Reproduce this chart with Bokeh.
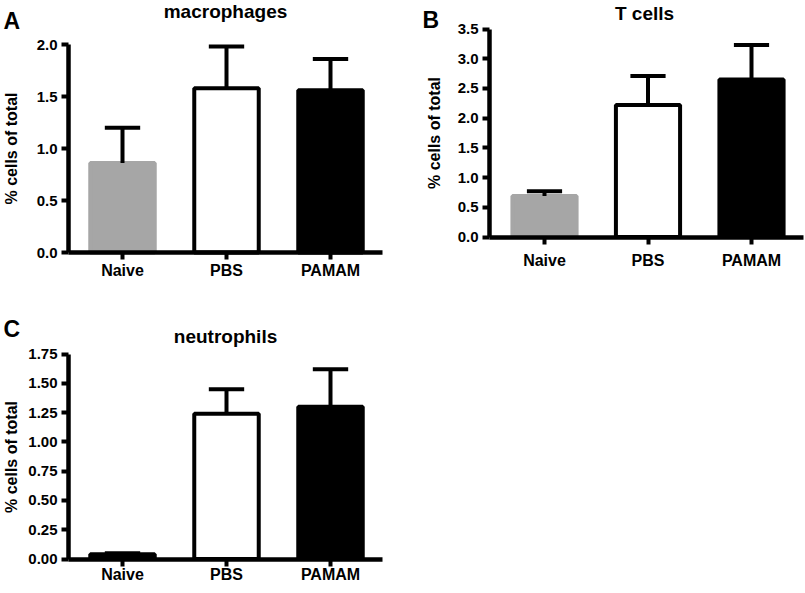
import math
from bokeh.plotting import figure
from bokeh.models import Range1d, FixedTicker, PrintfTickFormatter, Label
from bokeh.layouts import column, row
from bokeh.embed import file_html
from bokeh.resources import INLINE

# ---------------- data ----------------
categories = ["Naive", "PBS", "PAMAM"]

mac_mean = [0.86, 1.58, 1.56]
mac_err = [0.34, 0.40, 0.30]
mac_ticks = [0.0, 0.5, 1.0, 1.5, 2.0]

tcell_mean = [0.69, 2.22, 2.65]
tcell_err = [0.08, 0.49, 0.58]
tcell_ticks = [0.0, 0.5, 1.0, 1.5, 2.0, 2.5, 3.0, 3.5]

neut_mean = [0.04, 1.24, 1.30]
neut_err = [0.01, 0.21, 0.32]
neut_ticks = [0.0, 0.25, 0.50, 0.75, 1.00, 1.25, 1.50, 1.75]

GREY = "#A6A6A6"
FONT = "Liberation Sans"


def make_panel(letter, title, means, errs, ticks, fmt, fills, lines,
               W, H, axis_px, xend_px, first_px, step_px, zero_px, top_px,
               letter_pos, title_pos, ylabel_pos, xlabel_standoff):
    # pixel geometry -> data ranges (frame covers the whole figure)
    x0 = 1 - first_px / step_px
    x1 = x0 + W / step_px
    yscale = (zero_px - top_px) / (ticks[-1] - ticks[0])
    y1 = ticks[0] + zero_px / yscale
    y0 = y1 - H / yscale

    def fx(px):
        return x0 + px / step_px

    def fy(py):
        return y1 - py / yscale

    xs = [i + 1 for i in range(len(categories))]
    p = figure(width=W, height=H,
               x_range=Range1d(x0, x1), y_range=Range1d(y0, y1),
               output_backend="svg", toolbar_location=None, min_border=0)
    p.outline_line_color = None
    p.xgrid.visible = False
    p.ygrid.visible = False
    p.background_fill_color = "white"
    p.border_fill_color = "white"

    # bars
    p.vbar(x=xs, top=means, width=0.62, bottom=0,
           fill_color=fills, line_color=lines, line_width=4)
    # error bars (upper only)
    ups = [m + e for m, e in zip(means, errs)]
    p.segment(x0=xs, y0=means, x1=xs, y1=ups, line_color="black", line_width=4)
    p.segment(x0=[x - 0.17 for x in xs], y0=ups, x1=[x + 0.17 for x in xs], y1=ups,
              line_color="black", line_width=4)

    # axes styling
    for ax in (p.xaxis[0], p.yaxis[0]):
        ax.axis_line_width = 4.5
        ax.axis_line_color = "black"
        ax.major_tick_line_width = 4
        ax.major_tick_line_color = "black"
        ax.major_tick_in = 0
        ax.major_tick_out = 7
        ax.minor_tick_line_color = None
        ax.major_label_text_font = FONT
        ax.major_label_text_font_style = "bold"
        ax.major_label_text_color = "black"

    ya = p.yaxis[0]
    ya.fixed_location = fx(axis_px)
    ya.bounds = (ticks[0], ticks[-1])
    ya.ticker = FixedTicker(ticks=ticks)
    ya.formatter = PrintfTickFormatter(format=fmt)
    ya.major_label_text_font_size = "15px"
    ya.major_label_standoff = 4

    xa = p.xaxis[0]
    xa.fixed_location = ticks[0]
    xa.bounds = (fx(axis_px), fx(xend_px))
    xa.ticker = FixedTicker(ticks=xs)
    xa.major_label_overrides = {x: c for x, c in zip(xs, categories)}
    xa.major_label_text_font_size = "16px"
    xa.major_label_standoff = xlabel_standoff

    # y-axis title
    p.add_layout(Label(x=fx(ylabel_pos[0]), y=fy(ylabel_pos[1]), text="% cells of total",
                       angle=math.pi / 2, text_align="center", text_baseline="alphabetic",
                       text_font=FONT, text_font_style="bold",
                       text_font_size="16px", text_color="black"))
    # panel title
    p.add_layout(Label(x=fx(title_pos[0]), y=fy(title_pos[1]), text=title,
                       text_align="center", text_baseline="alphabetic",
                       text_font=FONT, text_font_style="bold",
                       text_font_size="19px", text_color="black"))
    # panel letter
    p.add_layout(Label(x=fx(letter_pos[0]), y=fy(letter_pos[1]), text=letter,
                       text_align="left", text_baseline="alphabetic",
                       text_font=FONT, text_font_style="bold",
                       text_font_size="23px", text_color="black"))
    return p


pA = make_panel("A", "macrophages", mac_mean, mac_err, mac_ticks, "%.1f",
                [GREY, "white", "black"], [GREY, "black", "black"],
                400, 297, 68, 382, 122, 104, 252, 44,
                (3, 20), (225, 11), (10.5, 148), 2)
pB = make_panel("B", "T cells", tcell_mean, tcell_err, tcell_ticks, "%.1f",
                [GREY, "white", "black"], [GREY, "black", "black"],
                404, 297, 89, 403, 144, 103.5, 236.5, 28.5,
                (22, 19), (244, 13), (33.5, 132.5), 8)
pC = make_panel("C", "neutrophils", neut_mean, neut_err, neut_ticks, "%.2f",
                ["black", "white", "black"], ["black", "black", "black"],
                400, 295, 68, 382, 122, 104, 261.5, 56.5,
                (3, 31.5), (225, 39), (10.5, 159.5), 0)

layout = column(row(pA, pB), pC)

open("out.html", "w").write(file_html(layout, INLINE))
